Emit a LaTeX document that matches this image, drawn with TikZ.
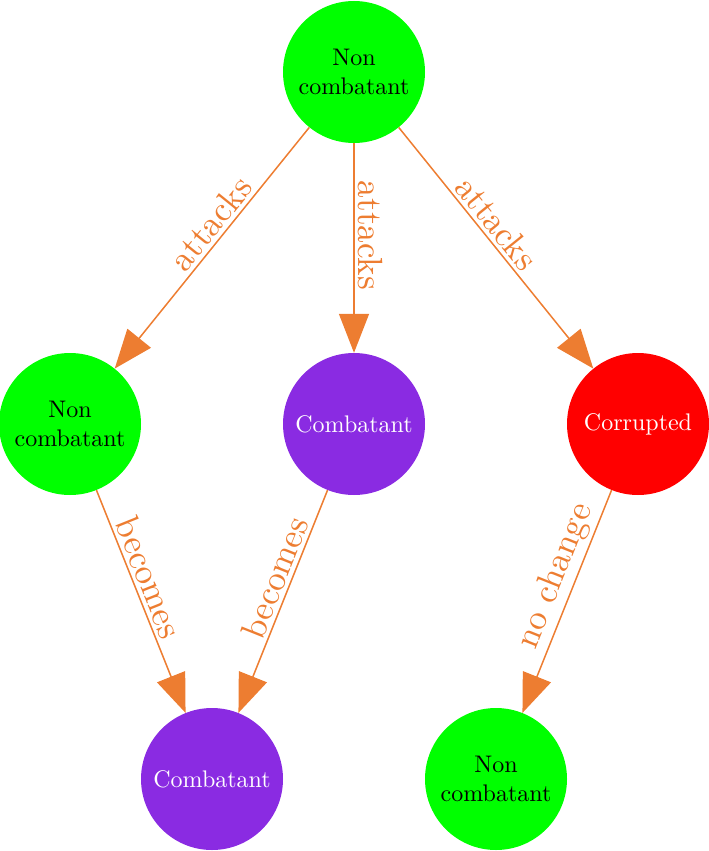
\documentclass[tikz,border=0pt]{standalone}
\usepackage{fontspec}
\setmainfont{lmroman10-regular.otf}
\usetikzlibrary{arrows.meta}
\definecolor{ngreen}{HTML}{00FF00}
\definecolor{npurple}{HTML}{8A2BE2}
\definecolor{nred}{HTML}{FF0000}
\definecolor{eorange}{HTML}{ED7D31}
\begin{document}
\begin{tikzpicture}[x=1pt,y=-1pt,
  state/.style={circle, minimum size=142pt, inner sep=0pt, align=center,
    font=\fontsize{24}{29}\selectfont},
  greenst/.style={state, fill=ngreen, text=black},
  purplest/.style={state, fill=npurple, text=white},
  redst/.style={state, fill=nred, text=white},
  edgeline/.style={draw=eorange, line width=1.5pt, -{Triangle[length=39pt,width=30pt]}},
  elabel/.style={sloped, above, text=eorange, font=\fontsize{35}{40}\selectfont, inner sep=3.5pt}]
\useasboundingbox (0,0) rectangle (709,851);
\node[greenst]  (top) at (354,72)  {Non\\combatant};
\node[greenst]  (l)   at (70,424)  {Non\\combatant};
\node[purplest] (m)   at (354,424) {Combatant};
\node[redst]    (r)   at (638,424) {Corrupted};
\node[purplest] (bl)  at (212,779) {Combatant};
\node[greenst]  (br)  at (496,779) {Non\\combatant};
\draw[edgeline] (top) -- node[elabel, pos=0.44] {attacks} (l);
\draw[edgeline] (top) -- node[elabel, pos=0.44] {attacks} (m);
\draw[edgeline] (top) -- node[elabel, pos=0.44] {attacks} (r);
\draw[edgeline] (l) -- node[elabel, pos=0.42] {becomes} (bl);
\draw[edgeline] (m) -- node[elabel, pos=0.42] {becomes} (bl);
\draw[edgeline] (r) -- node[elabel, pos=0.42] {no change} (br);
\end{tikzpicture}
\end{document}
